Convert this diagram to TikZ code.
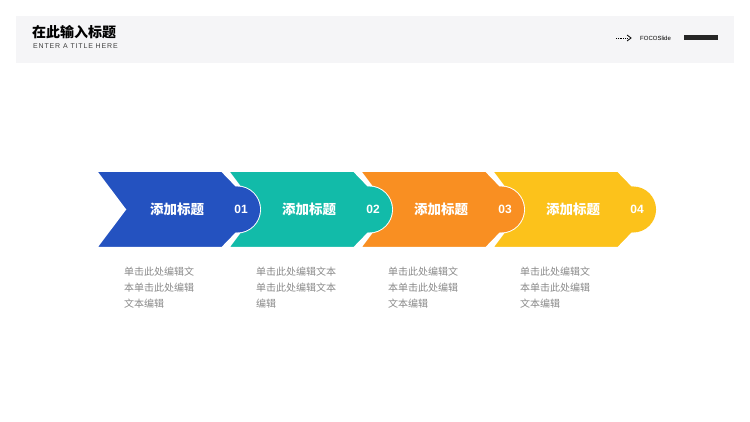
\documentclass[tikz,border=0pt]{standalone}
\usepackage{fontspec}
\setmainfont{Noto Sans CJK SC}
\newfontfamily\cjk{Noto Sans CJK SC}
\newfontfamily\latin{Liberation Sans}
\newfontfamily\latinsp[LetterSpace=12]{Liberation Sans}
\definecolor{cblue}{HTML}{2452C0}
\definecolor{cteal}{HTML}{12BBA9}
\definecolor{corange}{HTML}{F98F22}
\definecolor{cyellow}{HTML}{FCC21B}
\definecolor{hdr}{HTML}{F5F5F7}
\definecolor{desc}{HTML}{8A8A8A}
\tikzset{
  seg/.style={fill=#1, draw=white, line width=2pt, line join=miter},
  stitle/.style={text=white, font=\cjk\bfseries\fontsize{13.5}{14}\selectfont, anchor=center},
  snum/.style={text=white, font=\latin\bfseries\fontsize{12}{14}\selectfont, anchor=center},
  sdesc/.style={text=desc, font=\cjk\fontsize{10}{16}\selectfont, anchor=north west, align=left, inner sep=0pt},
}
\begin{document}
\begin{tikzpicture}[x=1pt,y=-1pt]
\useasboundingbox[fill=white] (0,0) rectangle (750,422);
\fill[hdr] (16,16) rectangle (734,63);
\node[anchor=west, inner sep=0pt, font=\cjk\bfseries\fontsize{14}{16}\selectfont] (t) at (32,32) {在此输入标题};
\node[anchor=west, inner sep=0pt, font=\latinsp\fontsize{7}{8}\selectfont, text=black!75] (st) at (33,46) {ENTER A TITLE HERE};
\coordinate (a1) at (616,38);
\coordinate (a2) at (631,38);
\draw[densely dotted, line width=0.8pt] (a1) -- (627,38);
\draw[line width=0.8pt] (627,35) -- (a2) -- (627,41);
\node[anchor=west, inner sep=0pt, font=\latin\fontsize{6}{7}\selectfont] (fs) at (640,38) {FOCOSlide};
\fill[black!85] (684,35.5) rectangle (718,40.5);
\foreach \i/\c/\n/\d in {3/cyellow/04/{单击此处编辑文\\本单击此处编辑\\文本编辑},
                         2/corange/03/{单击此处编辑文\\本单击此处编辑\\文本编辑},
                         1/cteal/02/{单击此处编辑文本\\单击此处编辑文本\\编辑},
                         0/cblue/01/{单击此处编辑文\\本单击此处编辑\\文本编辑}}{
  \pgfmathsetmacro{\xo}{96+132*\i}
  \draw[seg=\c] (\xo,171) -- (\xo+126,171) -- (\xo+141,186.5)
     arc[start angle=-90, end angle=90, radius=23] -- (\xo+126,248) -- (\xo,248) -- (\xo+29,209.5) -- cycle;
  \fill[\c] (\xo+141,209.5) circle[radius=23.05];
  \node[stitle] (ti\i) at (\xo+81,209.5) {添加标题};
  \node[snum] (nu\i) at (\xo+145,209.5) {\n};
  \node[sdesc] (de\i) at (\xo+28,267) {\d};
}
\end{tikzpicture}
\end{document}
